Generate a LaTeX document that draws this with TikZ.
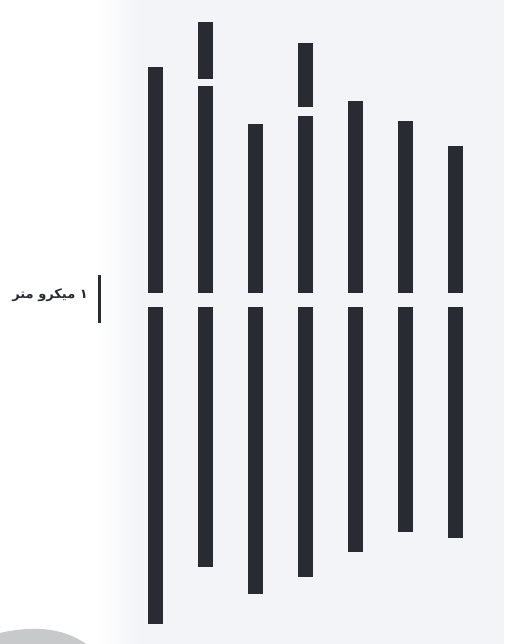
\documentclass[tikz,border=0pt]{standalone}
\usepackage{fontspec}
\usepackage{xcolor}
\TeXXeTstate=1
\newfontfamily\arabicfont[Script=Arabic]{DejaVu Sans}
\usetikzlibrary{positioning}

\definecolor{barc}{RGB}{40,43,50}
\definecolor{paper}{RGB}{242,244,247}
\definecolor{smudge}{RGB}{200,201,203}

\begin{document}
\begin{tikzpicture}[
    x=1pt, y=-1pt,
    arm/.style={fill=barc, draw=none},
    scalebar/.style={draw=barc, line width=3.4pt},
    lbl/.style={font=\arabicfont\bfseries\fontsize{13}{15}\selectfont, text=barc, inner sep=0pt},
  ]
    % --- page -------------------------------------------------------------
    \fill[white] (0,0) rectangle (504,644);
    \fill[paper] (140,0) rectangle (504,644);
    \shade[left color=white, right color=paper] (95,0) rectangle (140,644);
    \fill[smudge] (0,633) .. controls (25,627) and (60,625) .. (86,644) -- (0,644) -- cycle;
    \useasboundingbox (0,0) rectangle (504,644);

    % --- chromosomes: x / top / bottom (centromere gap 293--307) ----------
    \foreach \x/\top/\bot in {155/67/624, 205/86/567, 255/124/594, 305/116/577,
                              355/101/552, 405/121/532, 455/146/538} {
      \fill[arm] (\x-7.5,\top) rectangle (\x+7.5,293);
      \fill[arm] (\x-7.5,307) rectangle (\x+7.5,\bot);
    }

    % --- satellites ---------------------------------------------------------
    \foreach \x/\top/\bot in {205/22/79, 305/43/107}
      \fill[arm] (\x-7.5,\top) rectangle (\x+7.5,\bot);

    % --- scale ----------------------------------------------------------------
    \coordinate (s1) at (99.5,275);
    \coordinate (s2) at (99.5,323);
    \draw[scalebar] (s1) -- (s2);
    \node[lbl, anchor=east] (unit) at (88,295) {\beginR ۱ میکرو متر\endR};
\end{tikzpicture}
\end{document}
